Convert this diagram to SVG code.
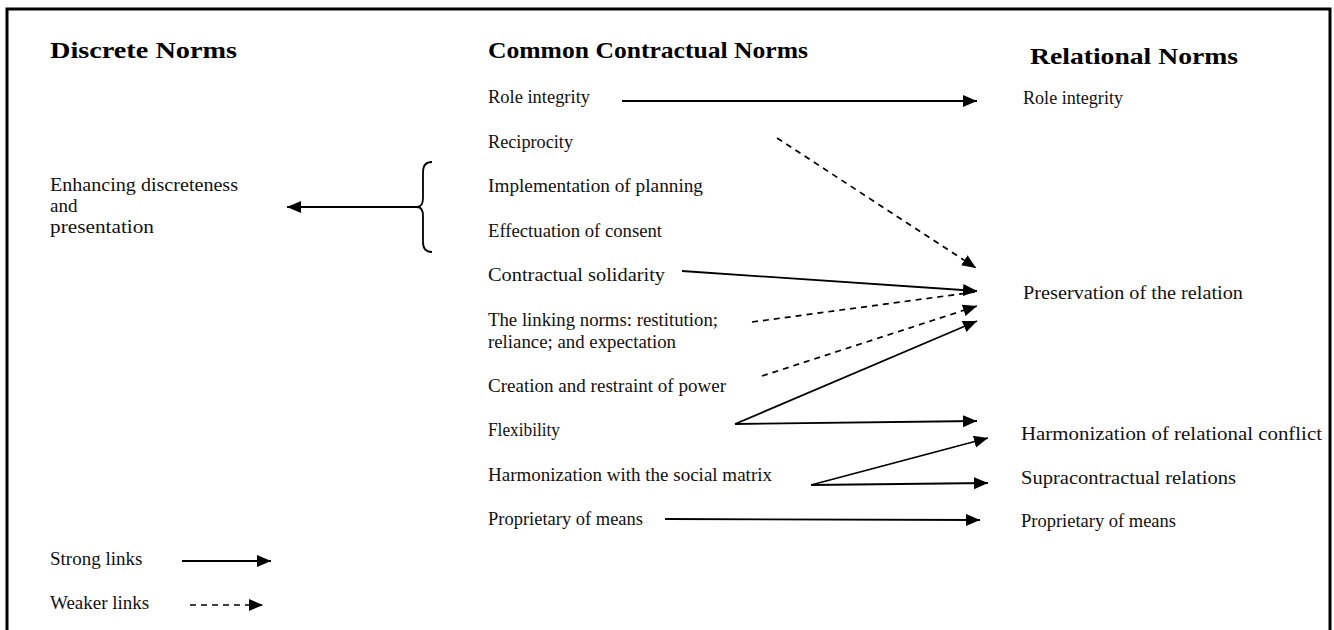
<svg xmlns="http://www.w3.org/2000/svg" width="1334" height="630" viewBox="0 0 1334 630">
<style>
.h{font-family:"Liberation Serif","Times New Roman",serif;font-weight:bold;font-size:24px;fill:#000}
.t{font-family:"Liberation Serif","Times New Roman",serif;font-size:19px;fill:#111}
.s{stroke:#000;stroke-width:1.8;fill:none}
.d{stroke:#000;stroke-width:1.7;fill:none;stroke-dasharray:6 5}
</style>
<defs>
<marker id="ah" markerUnits="userSpaceOnUse" markerWidth="16" markerHeight="13" refX="14" refY="6" orient="auto">
<path d="M0,0 L14,6 L0,12 z" fill="#000"/>
</marker>
</defs>
<rect width="1334" height="630" fill="#fff"/>
<path d="M7,640 L7,9 L1330,9 L1330,640" fill="none" stroke="#000" stroke-width="3"/>

<g id="headers">
<text class="h" x="50" y="58" textLength="187" lengthAdjust="spacingAndGlyphs">Discrete Norms</text>
<text class="h" x="488" y="58" textLength="320" lengthAdjust="spacingAndGlyphs">Common Contractual Norms</text>
<text class="h" x="1030" y="64" textLength="208" lengthAdjust="spacingAndGlyphs">Relational Norms</text>
</g>

<g id="discrete">
<text class="t" x="50" y="191" textLength="188" lengthAdjust="spacingAndGlyphs">Enhancing discreteness</text>
<text class="t" x="50" y="212">and</text>
<text class="t" x="50" y="233" textLength="104" lengthAdjust="spacingAndGlyphs">presentation</text>
</g>

<g id="bracket">
<path class="s" d="M432,162 Q423,162 423,172 L423,198 Q423,207 417,207 Q423,207 423,216 L423,242 Q423,252 432,252"/>
</g>

<g id="common">
<text class="t" x="488" y="103" textLength="102" lengthAdjust="spacingAndGlyphs">Role integrity</text>
<text class="t" x="488" y="148" textLength="85" lengthAdjust="spacingAndGlyphs">Reciprocity</text>
<text class="t" x="488" y="192" textLength="215" lengthAdjust="spacingAndGlyphs">Implementation of planning</text>
<text class="t" x="488" y="237" textLength="174" lengthAdjust="spacingAndGlyphs">Effectuation of consent</text>
<text class="t" x="488" y="281" textLength="177" lengthAdjust="spacingAndGlyphs">Contractual solidarity</text>
<text class="t" x="488" y="326" textLength="230" lengthAdjust="spacingAndGlyphs">The linking norms: restitution;</text>
<text class="t" x="488" y="348" textLength="188" lengthAdjust="spacingAndGlyphs">reliance; and expectation</text>
<text class="t" x="488" y="392" textLength="238" lengthAdjust="spacingAndGlyphs">Creation and restraint of power</text>
<text class="t" x="488" y="436" textLength="72" lengthAdjust="spacingAndGlyphs">Flexibility</text>
<text class="t" x="488" y="481" textLength="284" lengthAdjust="spacingAndGlyphs">Harmonization with the social matrix</text>
<text class="t" x="488" y="525" textLength="155" lengthAdjust="spacingAndGlyphs">Proprietary of means</text>
</g>

<g id="relational">
<text class="t" x="1023" y="104" textLength="100" lengthAdjust="spacingAndGlyphs">Role integrity</text>
<text class="t" x="1023" y="299" textLength="220" lengthAdjust="spacingAndGlyphs">Preservation of the relation</text>
<text class="t" x="1021" y="440" textLength="301" lengthAdjust="spacingAndGlyphs">Harmonization of relational conflict</text>
<text class="t" x="1021" y="484" textLength="215" lengthAdjust="spacingAndGlyphs">Supracontractual relations</text>
<text class="t" x="1021" y="527" textLength="155" lengthAdjust="spacingAndGlyphs">Proprietary of means</text>
</g>

<g id="legend">
<text class="t" x="50" y="565">Strong links</text>
<text class="t" x="50" y="609">Weaker links</text>
<line class="s" x1="182" y1="561" x2="271" y2="561" marker-end="url(#ah)"/>
<line class="d" x1="190" y1="605" x2="263" y2="605" marker-end="url(#ah)"/>
</g>

<g id="connectors">
<line class="s" x1="417" y1="207" x2="287" y2="207" marker-end="url(#ah)"/>
<line class="s" x1="622" y1="101" x2="977" y2="101" marker-end="url(#ah)"/>
<line class="d" x1="777" y1="138" x2="976" y2="268" marker-end="url(#ah)"/>
<line class="s" x1="682" y1="271" x2="977" y2="291" marker-end="url(#ah)"/>
<line class="d" x1="752" y1="322" x2="975" y2="292"/>
<line class="d" x1="762" y1="376" x2="977" y2="306" marker-end="url(#ah)"/>
<line class="s" x1="735" y1="424" x2="977" y2="321" marker-end="url(#ah)"/>
<line class="s" x1="735" y1="424" x2="977" y2="421" marker-end="url(#ah)"/>
<line class="s" x1="811" y1="485" x2="988" y2="438" marker-end="url(#ah)"/>
<line class="s" x1="811" y1="485" x2="988" y2="483" marker-end="url(#ah)"/>
<line class="s" x1="665" y1="519" x2="980" y2="520" marker-end="url(#ah)"/>
</g>
</svg>
